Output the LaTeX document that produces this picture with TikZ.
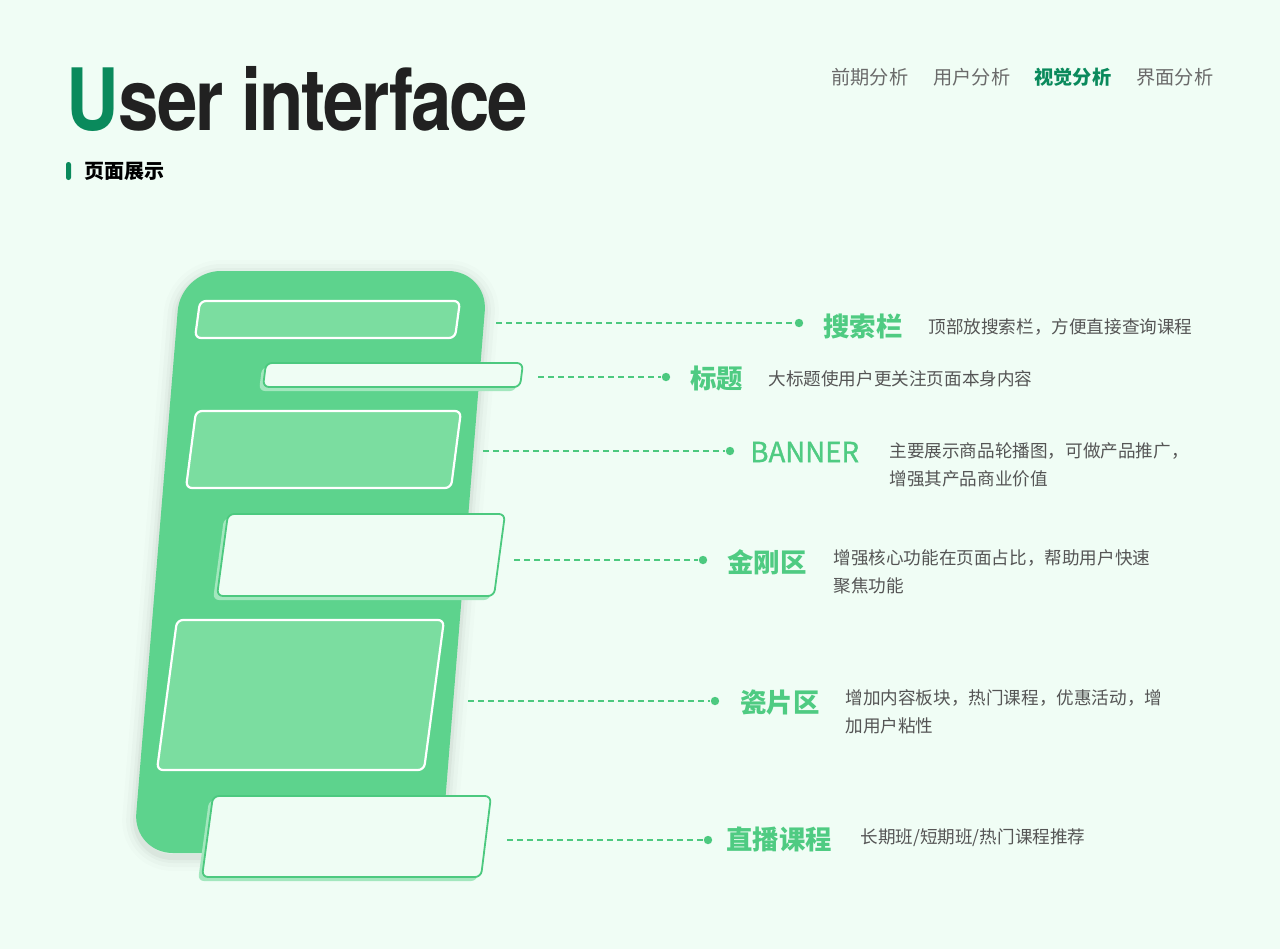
\documentclass[tikz,border=0pt]{standalone}
\usepackage{fontspec}
\setmainfont{Noto Sans CJK SC}
\newfontfamily\heros[LetterSpace=-3]{TeX Gyre Heros}
\newfontfamily\bannfont[FakeBold=1.3]{Noto Sans CJK SC}
\usetikzlibrary{positioning}

\definecolor{pagebg}{HTML}{F0FDF5}
\definecolor{bodygreen}{HTML}{5DD38D}
\definecolor{slablight}{HTML}{7BDDA0}
\definecolor{slabwhite}{HTML}{EFFDF4}
\definecolor{slabshade}{HTML}{A3E7BE}
\definecolor{linegreen}{HTML}{4CC97F}
\definecolor{taggreen}{HTML}{4FCB82}
\definecolor{deepgreen}{HTML}{0A8A5C}
\definecolor{notegray}{HTML}{555555}
\definecolor{navgray}{HTML}{6A6A6A}

\tikzset{
  lightslab/.style={fill=slablight, draw=white, line width=1.1pt, rounded corners=3pt},
  whiteslab/.style={fill=slabwhite, draw=linegreen, line width=0.9pt, rounded corners=3pt},
  shadeslab/.style={fill=slabshade, rounded corners=3pt},
  halo/.style={draw=black, rounded corners=20pt, line join=round},
  lead/.style={draw=linegreen, line width=0.9pt, dash pattern=on 3pt off 2pt},
  enddot/.style={circle, fill=linegreen, inner sep=0pt, minimum size=4.2pt},
  tag/.style={font=\bfseries\fontsize{13.2}{15}\selectfont, text=taggreen, anchor=west, inner sep=0pt},
  note/.style={font=\fontsize{8.8}{14}\selectfont, text=notegray, anchor=west, align=left, inner sep=0pt},
  navitem/.style={font=\fontsize{9.6}{11}\selectfont, text=navgray, anchor=west, inner sep=0pt},
}

\begin{document}
\begin{tikzpicture}[x=0.5pt, y=-0.5pt]
            \useasboundingbox[fill=pagebg] (0,0) rectangle (1280,949);

            % heading
            \node[anchor=base west, inner sep=0pt, xscale=0.845, text=black!87,
                  font=\heros\bfseries\fontsize{43}{43}\selectfont] (title) at (66,130)
                  {{\color{deepgreen}U}ser interface};
            \fill[deepgreen, rounded corners=1.2pt] (66,162) rectangle (71,180);
            \node[anchor=west, inner sep=0pt, font=\bfseries\fontsize{10}{12}\selectfont] (subtitle) at (84,171) {页面展示};

            \node[navitem] (nav1) at (831,77) {前期分析};
            \node[navitem] (nav2) at (933,77) {用户分析};
            \node[navitem, text=deepgreen, font=\bfseries\fontsize{9.6}{11}\selectfont] (nav3) at (1034,77) {视觉分析};
            \node[navitem] (nav4) at (1136,77) {界面分析};

            % phone body with a soft halo
            \foreach \w/\o in {14/0.012, 10/0.018, 6/0.025, 3/0.035}
              \draw[halo, line width=\w pt, opacity=\o] (181,274) -- (488,274) -- (441,857) -- (133,857) -- cycle;
            \fill[bodygreen, rounded corners=20pt]
                  (181,271) -- (488,271) -- (441,853) -- (133,853) -- cycle;

            % blocks
            \path[lightslab] (200,301) -- (460,301) -- (455,338) -- (195,338) -- cycle;

            \path[shadeslab] (262,367) -- (519,367) -- (516,391) -- (259,391) -- cycle;
            \path[whiteslab] (266,363) -- (523,363) -- (520,387) -- (263,387) -- cycle;

            \path[lightslab] (196,411) -- (461,411) -- (451,488) -- (186,488) -- cycle;

            \path[shadeslab] (224,518) -- (501,518) -- (490,600) -- (213,600) -- cycle;
            \path[whiteslab] (228,514) -- (505,514) -- (494,596) -- (217,596) -- cycle;

            \path[lightslab] (177,620) -- (444,620) -- (424,770) -- (157,770) -- cycle;

            \path[shadeslab] (209,800) -- (487,800) -- (477,881) -- (198,881) -- cycle;
            \path[whiteslab] (213,796) -- (491,796) -- (481,877) -- (202,877) -- cycle;

            % leaders
            \coordinate (srch) at (496,323);
            \coordinate (head) at (538,377);
            \coordinate (bann) at (483,451);
            \coordinate (kong) at (514,560);
            \coordinate (tile) at (468,701);
            \coordinate (live) at (507,840);

            \node[enddot] (srch-dot) at (799,323) {};
            \node[enddot] (head-dot) at (666,377) {};
            \node[enddot] (bann-dot) at (730,451) {};
            \node[enddot] (kong-dot) at (703,560) {};
            \node[enddot] (tile-dot) at (715,701) {};
            \node[enddot] (live-dot) at (708,840) {};

            \draw[lead] (srch) -- (srch-dot);
            \draw[lead] (head) -- (head-dot);
            \draw[lead] (bann) -- (bann-dot);
            \draw[lead] (kong) -- (kong-dot);
            \draw[lead] (tile) -- (tile-dot);
            \draw[lead] (live) -- (live-dot);

            \node[tag] (srch-tag) at (823,326) {搜索栏};
            \node[tag] (head-tag) at (690,378) {标题};
            \node[tag, font=\bannfont\fontsize{13.8}{15}\selectfont] (bann-tag) at (750,452) {BANNER};
            \node[tag] (kong-tag) at (727,562) {金刚区};
            \node[tag] (tile-tag) at (740,703) {瓷片区};
            \node[tag] (live-tag) at (726,839) {直播课程};

            \node[note] (srch-note) at (928,327) {顶部放搜索栏，方便直接查询课程};
            \node[note] (head-note) at (768,379) {大标题使用户更关注页面本身内容};
            \node[note] (bann-note) at (889,465) {主要展示商品轮播图，可做产品推广，\\增强其产品商业价值};
            \node[note] (kong-note) at (833,572) {增强核心功能在页面占比，帮助用户快速\\聚焦功能};
            \node[note] (tile-note) at (845,712) {增加内容板块，热门课程，优惠活动，增\\加用户粘性};
            \node[note] (live-note) at (860,838) {长期班/短期班/热门课程推荐};
        \end{tikzpicture}
\end{document}
